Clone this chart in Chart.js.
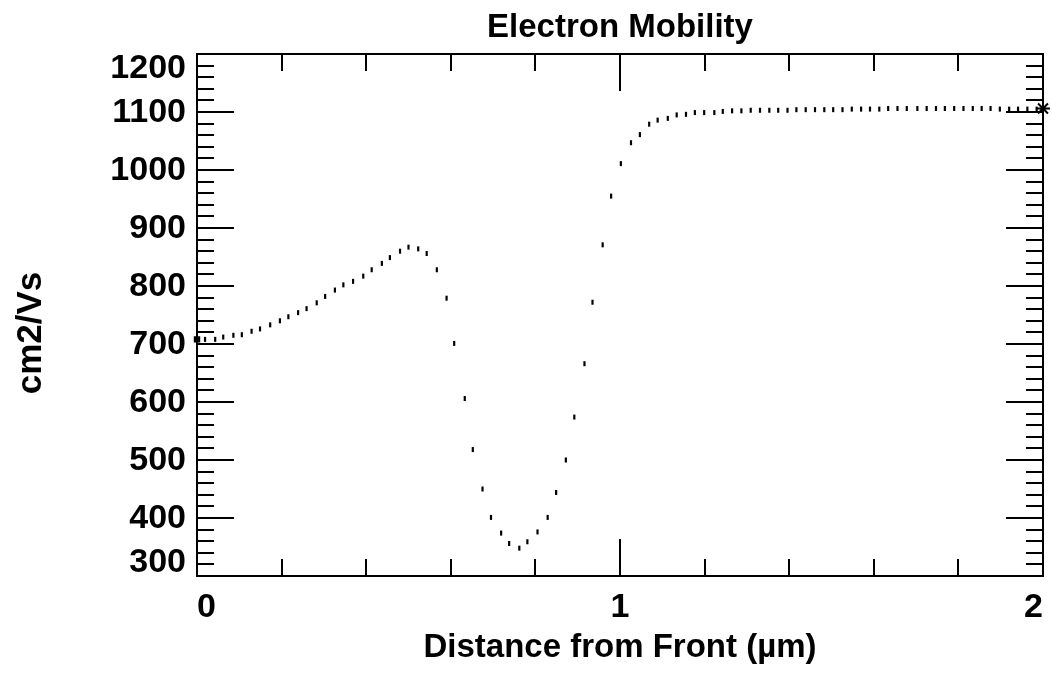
<!DOCTYPE html>
<html>
<head>
<meta charset="utf-8">
<title>Electron Mobility</title>
<script src="https://cdn.jsdelivr.net/npm/chart.js"></script>
<style>
  html, body { margin: 0; padding: 0; background: #fff; }
  #chart { display: block; }
</style>
</head>
<body>
<canvas id="chart" width="1052" height="675"></canvas>
<script>
// distance from front (um)
const distance = [
  0, 0.019, 0.043, 0.062, 0.086, 0.106, 0.129, 0.149, 0.173, 0.196,
  0.216, 0.239, 0.259, 0.283, 0.303, 0.326, 0.346, 0.369, 0.393, 0.413,
  0.437, 0.456, 0.480, 0.500, 0.523, 0.543, 0.567, 0.590, 0.608, 0.633,
  0.652, 0.675, 0.695, 0.719, 0.738, 0.762, 0.781, 0.805, 0.829, 0.849,
  0.872, 0.892, 0.916, 0.935, 0.959, 0.979, 1.002, 1.026, 1.047, 1.069,
  1.089, 1.113, 1.134, 1.156, 1.177, 1.199, 1.223, 1.243, 1.265, 1.287,
  1.309, 1.331, 1.353, 1.374, 1.396, 1.417, 1.439, 1.461, 1.483, 1.504,
  1.526, 1.548, 1.570, 1.591, 1.613, 1.634, 1.656, 1.678, 1.703, 1.725,
  1.747, 1.768, 1.790, 1.812, 1.834, 1.855, 1.876, 1.898, 1.920, 1.941,
  1.963, 1.985
];
// electron mobility (cm2/Vs)
const mobility = [
  708, 708, 708, 712, 715, 716, 722, 726, 733, 740,
  747, 754, 761, 771, 782, 793, 802, 808, 817, 828,
  839, 849, 860, 867, 864, 856, 828, 779, 701, 606,
  518, 450, 401, 374, 356, 348, 359, 376, 401, 444,
  500, 574, 666, 772, 871, 955, 1011, 1047, 1061, 1079,
  1086, 1089, 1095, 1096, 1099, 1099, 1099, 1101, 1102, 1102,
  1103, 1103, 1103, 1103, 1103, 1104, 1104, 1104, 1104, 1104,
  1104, 1105, 1105, 1105, 1105, 1106, 1106, 1106, 1106, 1106,
  1106, 1106, 1106, 1106, 1106, 1106, 1106, 1105, 1105, 1105,
  1105, 1105
];
// end marker and the little bracket before it
const endX = [2.0];
const endY = [1106];
const hookX = [1.920, 1.963];
const hookY = [1100, 1100];

// axis ticks
const xMajor = [0, 1, 2];
const xLabels = ["0", "1", "2"];
const xMinorStep = 0.2;
const yMajor = [300, 400, 500, 600, 700, 800, 900, 1000, 1100, 1200];
const yMinorStep = 20;

const FAMILY = "'Liberation Sans', Arial, sans-serif";

// IDL style box: frame, inward ticks on every side, labels kept inside the box
const idlAxes = {
  id: "idlAxes",
  afterDraw(chart) {
    const { ctx, chartArea: a } = chart;
    const xs = chart.scales.x, ys = chart.scales.y;
    const major = 37, minor = 17;
    ctx.save();
    ctx.strokeStyle = "#000";
    ctx.fillStyle = "#000";
    ctx.lineWidth = 2;
    ctx.strokeRect(a.left, a.top, a.right - a.left, a.bottom - a.top);

    const seg = (x1, y1, x2, y2) => {
      ctx.beginPath(); ctx.moveTo(x1, y1); ctx.lineTo(x2, y2); ctx.stroke();
    };

    // y ticks
    const nY = Math.round((ys.max - ys.min) / yMinorStep);
    for (let i = 0; i <= nY; i++) {
      const v = ys.min + i * yMinorStep;
      const py = Math.round(ys.getPixelForValue(v));
      const len = yMajor.includes(v) ? major : minor;
      seg(a.left, py, a.left + len, py);
      seg(a.right, py, a.right - len, py);
    }
    // x ticks
    const nX = Math.round((xs.max - xs.min) / xMinorStep);
    for (let i = 0; i <= nX; i++) {
      const v = +(xs.min + i * xMinorStep).toFixed(3);
      const px = Math.round(xs.getPixelForValue(v));
      const len = xMajor.includes(v) ? major : minor;
      seg(px, a.bottom, px, a.bottom - len);
      seg(px, a.top, px, a.top + len);
    }

    ctx.font = "bold 34px " + FAMILY;
    // y labels
    ctx.textAlign = "right";
    ctx.textBaseline = "middle";
    yMajor.forEach((v) => {
      let py = ys.getPixelForValue(v);
      py = Math.min(Math.max(py, a.top + 14), a.bottom - 14);
      ctx.fillText(String(v), a.left - 11, py + 1);
    });
    // x labels
    xMajor.forEach((v, i) => {
      const px = xs.getPixelForValue(v);
      ctx.textAlign = i === 0 ? "left" : i === xMajor.length - 1 ? "right" : "center";
      ctx.fillText(xLabels[i], px, 608);
    });

    // titles
    ctx.font = "bold 33px " + FAMILY;
    ctx.textAlign = "center";
    ctx.fillText("Electron Mobility", (a.left + a.right) / 2, 28);
    ctx.fillText("Distance from Front (\u00b5m)", (a.left + a.right) / 2, 648);
    ctx.font = "bold 35px " + FAMILY;
    ctx.translate(31, (a.top + a.bottom) / 2 + 18);
    ctx.rotate(-Math.PI / 2);
    ctx.fillText("cm2/Vs", 0, 0);
    ctx.restore();
  },
};

new Chart(document.getElementById("chart"), {
  type: "scatter",
  data: {
    datasets: [
      {
        data: distance.map((d, i) => ({ x: d, y: mobility[i] })),
        showLine: false,
        pointStyle: (c) => (c.dataIndex === 0 ? "rect" : "line"),
        rotation: (c) => (c.dataIndex === 0 ? 0 : 90),
        pointRadius: (c) => (c.dataIndex === 0 ? 3 : 2.5),
        pointBorderWidth: 2.2,
        borderColor: "#000",
        backgroundColor: "#000",
        clip: false,
      },
      {
        type: "line",
        data: hookX.map((d, i) => ({ x: d, y: hookY[i] })),
        borderColor: "#000",
        borderWidth: 2,
        pointRadius: 0,
        clip: false,
      },
      {
        data: endX.map((d, i) => ({ x: d, y: endY[i] })),
        pointStyle: "star",
        pointRadius: 7,
        pointBorderWidth: 2,
        borderColor: "#000",
        backgroundColor: "#000",
        clip: false,
      },
    ],
  },
  options: {
    responsive: false,
    animation: false,
    devicePixelRatio: 1,
    events: [],
    layout: { padding: { left: 197, right: 9, top: 54, bottom: 99 } },
    plugins: { legend: { display: false }, tooltip: { enabled: false } },
    scales: {
      x: { type: "linear", min: 0, max: 2, display: false },
      y: { type: "linear", min: 300, max: 1200, display: false },
    },
  },
  plugins: [idlAxes],
});
</script>
</body>
</html>
